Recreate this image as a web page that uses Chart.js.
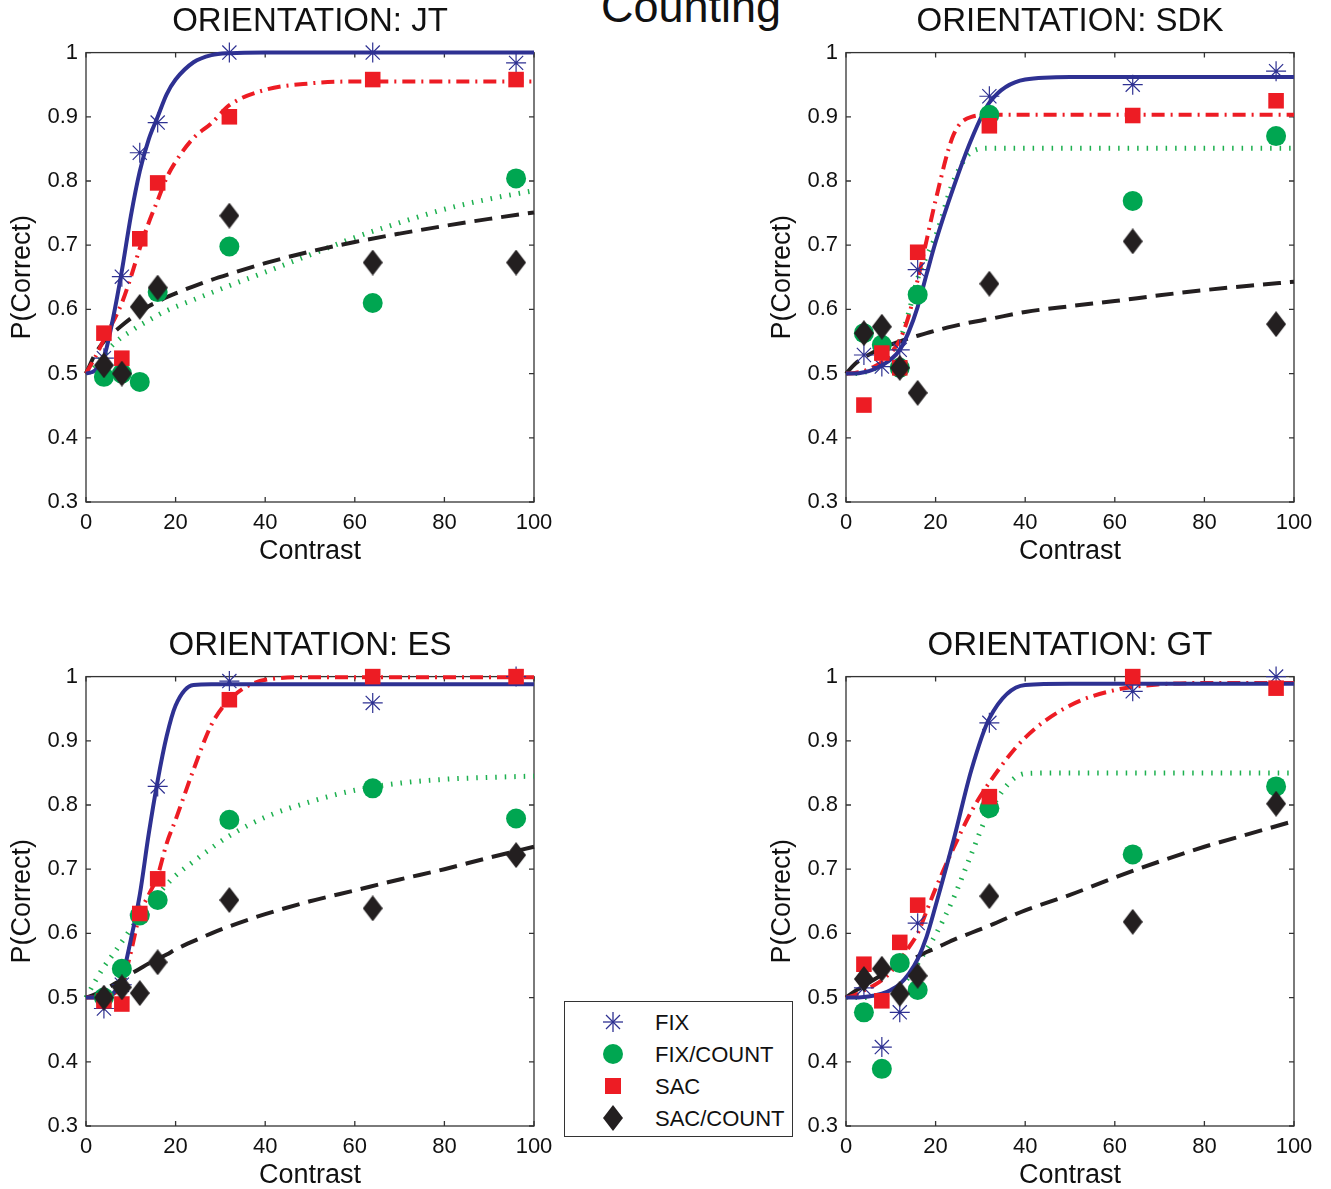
<!DOCTYPE html>
<html>
<head>
<meta charset="utf-8">
<script src="https://cdn.jsdelivr.net/npm/chart.js@4.4.1/dist/chart.umd.min.js"></script>
<style>
  body { margin: 0; background: #fff; width: 1331px; height: 1189px; overflow: hidden; position: relative; font-family: "Liberation Sans", Arial, sans-serif; }
  .panel { position: absolute; width: 565px; height: 580px; }
  #mainTitle { position: absolute; left: 491px; top: -16px; width: 400px; text-align: center; font-size: 45px; line-height: 45px; color: #111; }
  #legend { position: absolute; left: 564px; top: 1001px; width: 227px; height: 134px; border: 1px solid #333; background: #fff; z-index: 5; }
  .row { position: absolute; left: 0; height: 32px; width: 227px; }
  .row svg { position: absolute; left: 35px; top: 3px; }
  .row span { position: absolute; left: 90px; top: 4px; font-size: 22px; color: #111; }
</style>
</head>
<body>
<div id="mainTitle">Counting</div>

<div class="panel" style="left:0px;top:0px"><canvas id="c0" width="565" height="580"></canvas></div>
<div class="panel" style="left:760px;top:0px"><canvas id="c1" width="565" height="580"></canvas></div>
<div class="panel" style="left:0px;top:624px"><canvas id="c2" width="565" height="580"></canvas></div>
<div class="panel" style="left:760px;top:624px"><canvas id="c3" width="565" height="580"></canvas></div>

<div id="legend">
  <div class="row" style="top:4px">
    <svg width="26" height="26"><g stroke="#2E3192" stroke-width="1.3"><line x1="13" y1="3" x2="13" y2="23"/><line x1="3" y1="13" x2="23" y2="13"/><line x1="6" y1="6" x2="20" y2="20"/><line x1="20" y1="6" x2="6" y2="20"/></g></svg>
    <span>FIX</span>
  </div>
  <div class="row" style="top:36px">
    <svg width="26" height="26"><circle cx="13" cy="13" r="10" fill="#00A651"/></svg>
    <span>FIX/COUNT</span>
  </div>
  <div class="row" style="top:68px">
    <svg width="26" height="26"><rect x="5" y="5" width="16" height="16" fill="#ED1C24"/></svg>
    <span>SAC</span>
  </div>
  <div class="row" style="top:100px">
    <svg width="26" height="26"><polygon points="13,0 23,13 13,26 3,13" fill="#231F20"/></svg>
    <span>SAC/COUNT</span>
  </div>
</div>

<script>
// contrast levels where data were measured
const contrast = [4, 8, 12, 16, 32, 64, 96];
// x positions where the fitted curves are read
const fitX = [0, 2, 4, 6, 8, 10, 12, 14, 16, 18, 20, 24, 28, 32, 40, 50, 60, 70, 80, 90, 100];
const xTicks = [0, 20, 40, 60, 80, 100];
const yTicks = [0.3, 0.4, 0.5, 0.6, 0.7, 0.8, 0.9, 1];
const panelTitles = ["ORIENTATION: JT", "ORIENTATION: SDK", "ORIENTATION: ES", "ORIENTATION: GT"];

// JT
const jtFix = [0.524, 0.651, 0.844, 0.891, 1.0, 1.0, 0.984];
const jtFixCount = [0.495, 0.50, 0.487, 0.627, 0.698, 0.61, 0.804];
const jtSac = [0.563, 0.524, 0.71, 0.797, 0.90, 0.958, 0.958];
const jtSacCount = [0.513, 0.50, 0.604, 0.634, 0.746, 0.673, 0.673];
const jtFixFit = [0.5, 0.505, 0.525, 0.585, 0.66, 0.745, 0.815, 0.865, 0.9, 0.935, 0.958, 0.985, 0.996, 0.999, 1, 1, 1, 1, 1, 1, 1];
const jtFixCountFit = [0.5, 0.515, 0.53, 0.545, 0.557, 0.566, 0.575, 0.583, 0.591, 0.598, 0.604, 0.615, 0.626, 0.637, 0.658, 0.685, 0.712, 0.735, 0.756, 0.772, 0.785];
const jtSacFit = [0.5, 0.525, 0.553, 0.58, 0.61, 0.65, 0.695, 0.735, 0.77, 0.805, 0.83, 0.867, 0.89, 0.918, 0.942, 0.952, 0.955, 0.955, 0.955, 0.955, 0.955];
const jtSacCountFit = [0.5, 0.53, 0.55, 0.563, 0.575, 0.586, 0.596, 0.605, 0.612, 0.619, 0.625, 0.636, 0.646, 0.655, 0.672, 0.69, 0.705, 0.718, 0.73, 0.741, 0.751];

// SDK
const sdkFix = [0.529, 0.511, 0.537, 0.662, 0.932, 0.95, 0.971];
const sdkFixCount = [0.563, 0.545, 0.509, 0.623, 0.903, 0.769, 0.870];
const sdkSac = [0.451, 0.532, 0.509, 0.689, 0.886, 0.902, 0.925];
const sdkSacCount = [0.563, 0.573, 0.509, 0.47, 0.64, 0.706, 0.577];
const sdkFixFit = [0.5, 0.5, 0.502, 0.506, 0.513, 0.522, 0.537, 0.565, 0.604, 0.655, 0.705, 0.79, 0.865, 0.922, 0.958, 0.962, 0.962, 0.962, 0.962, 0.962, 0.962];
const sdkFixCountFit = [0.5, 0.5, 0.502, 0.506, 0.515, 0.53, 0.552, 0.595, 0.648, 0.683, 0.714, 0.8, 0.845, 0.851, 0.851, 0.851, 0.851, 0.851, 0.851, 0.851, 0.851];
const sdkSacFit = [0.5, 0.501, 0.504, 0.51, 0.518, 0.532, 0.552, 0.59, 0.646, 0.708, 0.77, 0.872, 0.9, 0.903, 0.903, 0.903, 0.903, 0.903, 0.903, 0.903, 0.903];
const sdkSacCountFit = [0.5, 0.515, 0.525, 0.533, 0.54, 0.545, 0.55, 0.555, 0.559, 0.563, 0.567, 0.574, 0.58, 0.585, 0.596, 0.605, 0.613, 0.622, 0.63, 0.637, 0.643];

// ES
const esFix = [0.483, 0.52, 0.63, 0.829, 0.993, 0.959, 1.0];
const esFixCount = [0.5, 0.545, 0.628, 0.652, 0.777, 0.826, 0.779];
const esSac = [0.495, 0.49, 0.631, 0.685, 0.964, 1.0, 1.0];
const esSacCount = [0.5, 0.516, 0.507, 0.555, 0.652, 0.639, 0.722];
const esFixFit = [0.5, 0.5, 0.501, 0.506, 0.53, 0.59, 0.66, 0.755, 0.838, 0.907, 0.955, 0.987, 0.988, 0.988, 0.988, 0.988, 0.988, 0.988, 0.988, 0.988, 0.988];
const esFixCountFit = [0.5, 0.525, 0.548, 0.567, 0.587, 0.607, 0.625, 0.643, 0.66, 0.676, 0.69, 0.712, 0.733, 0.752, 0.781, 0.805, 0.823, 0.834, 0.84, 0.843, 0.845];
const esSacFit = [0.5, 0.5, 0.501, 0.505, 0.52, 0.57, 0.63, 0.66, 0.69, 0.74, 0.777, 0.855, 0.925, 0.964, 0.995, 0.999, 0.999, 0.999, 0.999, 0.999, 0.999];
const esSacCountFit = [0.5, 0.505, 0.512, 0.52, 0.528, 0.537, 0.545, 0.553, 0.56, 0.567, 0.575, 0.588, 0.6, 0.611, 0.63, 0.65, 0.667, 0.684, 0.7, 0.718, 0.735];

// GT
const gtFix = [0.515, 0.423, 0.477, 0.616, 0.928, 0.977, 1.0];
const gtFixCount = [0.477, 0.389, 0.554, 0.512, 0.795, 0.723, 0.829];
const gtSac = [0.552, 0.495, 0.586, 0.644, 0.813, 1.0, 0.982];
const gtSacCount = [0.529, 0.545, 0.506, 0.534, 0.658, 0.618, 0.802];
const gtFixFit = [0.5, 0.5, 0.501, 0.503, 0.506, 0.512, 0.521, 0.537, 0.56, 0.595, 0.643, 0.745, 0.855, 0.935, 0.987, 0.989, 0.989, 0.989, 0.989, 0.989, 0.989];
const gtFixCountFit = [0.5, 0.5, 0.5, 0.501, 0.503, 0.508, 0.516, 0.532, 0.553, 0.575, 0.598, 0.655, 0.724, 0.79, 0.849, 0.85, 0.85, 0.85, 0.85, 0.85, 0.85];
const gtSacFit = [0.5, 0.504, 0.511, 0.518, 0.527, 0.54, 0.558, 0.578, 0.6, 0.635, 0.67, 0.733, 0.79, 0.835, 0.905, 0.955, 0.979, 0.988, 0.99, 0.99, 0.99];
const gtSacCountFit = [0.5, 0.51, 0.518, 0.527, 0.535, 0.543, 0.55, 0.557, 0.564, 0.571, 0.577, 0.59, 0.601, 0.612, 0.636, 0.66, 0.687, 0.712, 0.735, 0.755, 0.775];

const BLUE = "#2E3192", GREEN = "#00A651", RED = "#ED1C24", BLACK = "#231F20";

// tall diamond like matlab's 'd' marker
const diamond = document.createElement("canvas");
diamond.width = 20; diamond.height = 26;
(function () {
    const g = diamond.getContext("2d");
    g.fillStyle = BLACK;
    g.beginPath();
    g.moveTo(10, 0); g.lineTo(20, 13); g.lineTo(10, 26); g.lineTo(0, 13);
    g.closePath(); g.fill();
})();

function pairs(xs, ys) {
    return xs.map((x, i) => ({ x: x, y: ys[i] }));
}

// frame with inward ticks on all four sides
const boxPlugin = {
    id: "box",
    beforeDatasetsDraw(chart) {
        const ctx = chart.ctx, a = chart.chartArea;
        const xs = chart.scales.x, ys = chart.scales.y;
        ctx.save();
        ctx.strokeStyle = "#333";
        ctx.lineWidth = 1.3;
        ctx.strokeRect(a.left, a.top, a.right - a.left, a.bottom - a.top);
        ctx.beginPath();
        xs.ticks.forEach(t => {
            const px = xs.getPixelForValue(t.value);
            ctx.moveTo(px, a.bottom); ctx.lineTo(px, a.bottom - 5);
            ctx.moveTo(px, a.top); ctx.lineTo(px, a.top + 5);
        });
        ys.ticks.forEach(t => {
            const py = ys.getPixelForValue(t.value);
            ctx.moveTo(a.left, py); ctx.lineTo(a.left + 5, py);
            ctx.moveTo(a.right, py); ctx.lineTo(a.right - 5, py);
        });
        ctx.stroke();
        ctx.restore();
    }
};

function makePanel(id, title, fix, fixCount, sac, sacCount, fixFit, fixCountFit, sacFit, sacCountFit) {
    const curve = (ys, color, dash, width) => ({
        data: pairs(fitX, ys), showLine: true, pointRadius: 0, borderColor: color,
        borderWidth: width, borderDash: dash, cubicInterpolationMode: "monotone", clip: false
    });
    new Chart(document.getElementById(id), {
        type: "scatter",
        data: {
            datasets: [
                { data: pairs(contrast, sacCount), pointStyle: diamond, pointRadius: 10, clip: false },
                { data: pairs(contrast, sac), pointStyle: "rect", pointRadius: 11, backgroundColor: RED, borderWidth: 0, clip: false },
                { data: pairs(contrast, fixCount), pointStyle: "circle", pointRadius: 10, backgroundColor: GREEN, borderWidth: 0, clip: false },
                { data: pairs(contrast, fix), pointStyle: "star", pointRadius: 10, borderColor: BLUE, borderWidth: 1.2, clip: false },
                curve(fixFit, BLUE, [], 4),
                curve(sacFit, RED, [13, 6, 2, 6], 4),
                curve(sacCountFit, BLACK, [18, 9], 4),
                curve(fixCountFit, "#1DB04F", [1.5, 8], 5)
            ]
        },
        options: {
            responsive: false,
            animation: false,
            events: [],
            layout: { padding: { right: 31, left: 0, top: 0, bottom: 0 } },
            plugins: {
                legend: { display: false },
                tooltip: { enabled: false },
                title: {
                    display: true, text: title, color: "#111", fullSize: false,
                    font: { family: "Liberation Sans", size: 33, weight: "normal", lineHeight: 1.2 },
                    padding: { top: 2, bottom: 11 }
                }
            },
            scales: {
                x: {
                    type: "linear", min: 0, max: 100,
                    afterFit: s => { s.height = 78; },
                    afterBuildTicks: s => { s.ticks = xTicks.map(v => ({ value: v })); },
                    grid: { display: false, drawTicks: false },
                    border: { display: false },
                    ticks: { color: "#111", padding: 8, font: { family: "Liberation Sans", size: 22 } },
                    title: { display: true, text: "Contrast", color: "#111", padding: { top: 0, bottom: 12 },
                             font: { family: "Liberation Sans", size: 27, lineHeight: 1.2 } }
                },
                y: {
                    type: "linear", min: 0.3, max: 1,
                    afterFit: s => { s.width = 86; },
                    afterBuildTicks: s => { s.ticks = yTicks.map(v => ({ value: v })); },
                    grid: { display: false, drawTicks: false },
                    border: { display: false },
                    ticks: { color: "#111", padding: 8, font: { family: "Liberation Sans", size: 22 },
                             callback: v => String(Math.round(v * 10) / 10) },
                    title: { display: true, text: "P(Correct)", color: "#111", padding: { top: 6, bottom: 0 },
                             font: { family: "Liberation Sans", size: 27, lineHeight: 1.2 } }
                }
            }
        },
        plugins: [boxPlugin]
    });
}

makePanel("c0", panelTitles[0], jtFix, jtFixCount, jtSac, jtSacCount, jtFixFit, jtFixCountFit, jtSacFit, jtSacCountFit);
makePanel("c1", panelTitles[1], sdkFix, sdkFixCount, sdkSac, sdkSacCount, sdkFixFit, sdkFixCountFit, sdkSacFit, sdkSacCountFit);
makePanel("c2", panelTitles[2], esFix, esFixCount, esSac, esSacCount, esFixFit, esFixCountFit, esSacFit, esSacCountFit);
makePanel("c3", panelTitles[3], gtFix, gtFixCount, gtSac, gtSacCount, gtFixFit, gtFixCountFit, gtSacFit, gtSacCountFit);
</script>
</body>
</html>
